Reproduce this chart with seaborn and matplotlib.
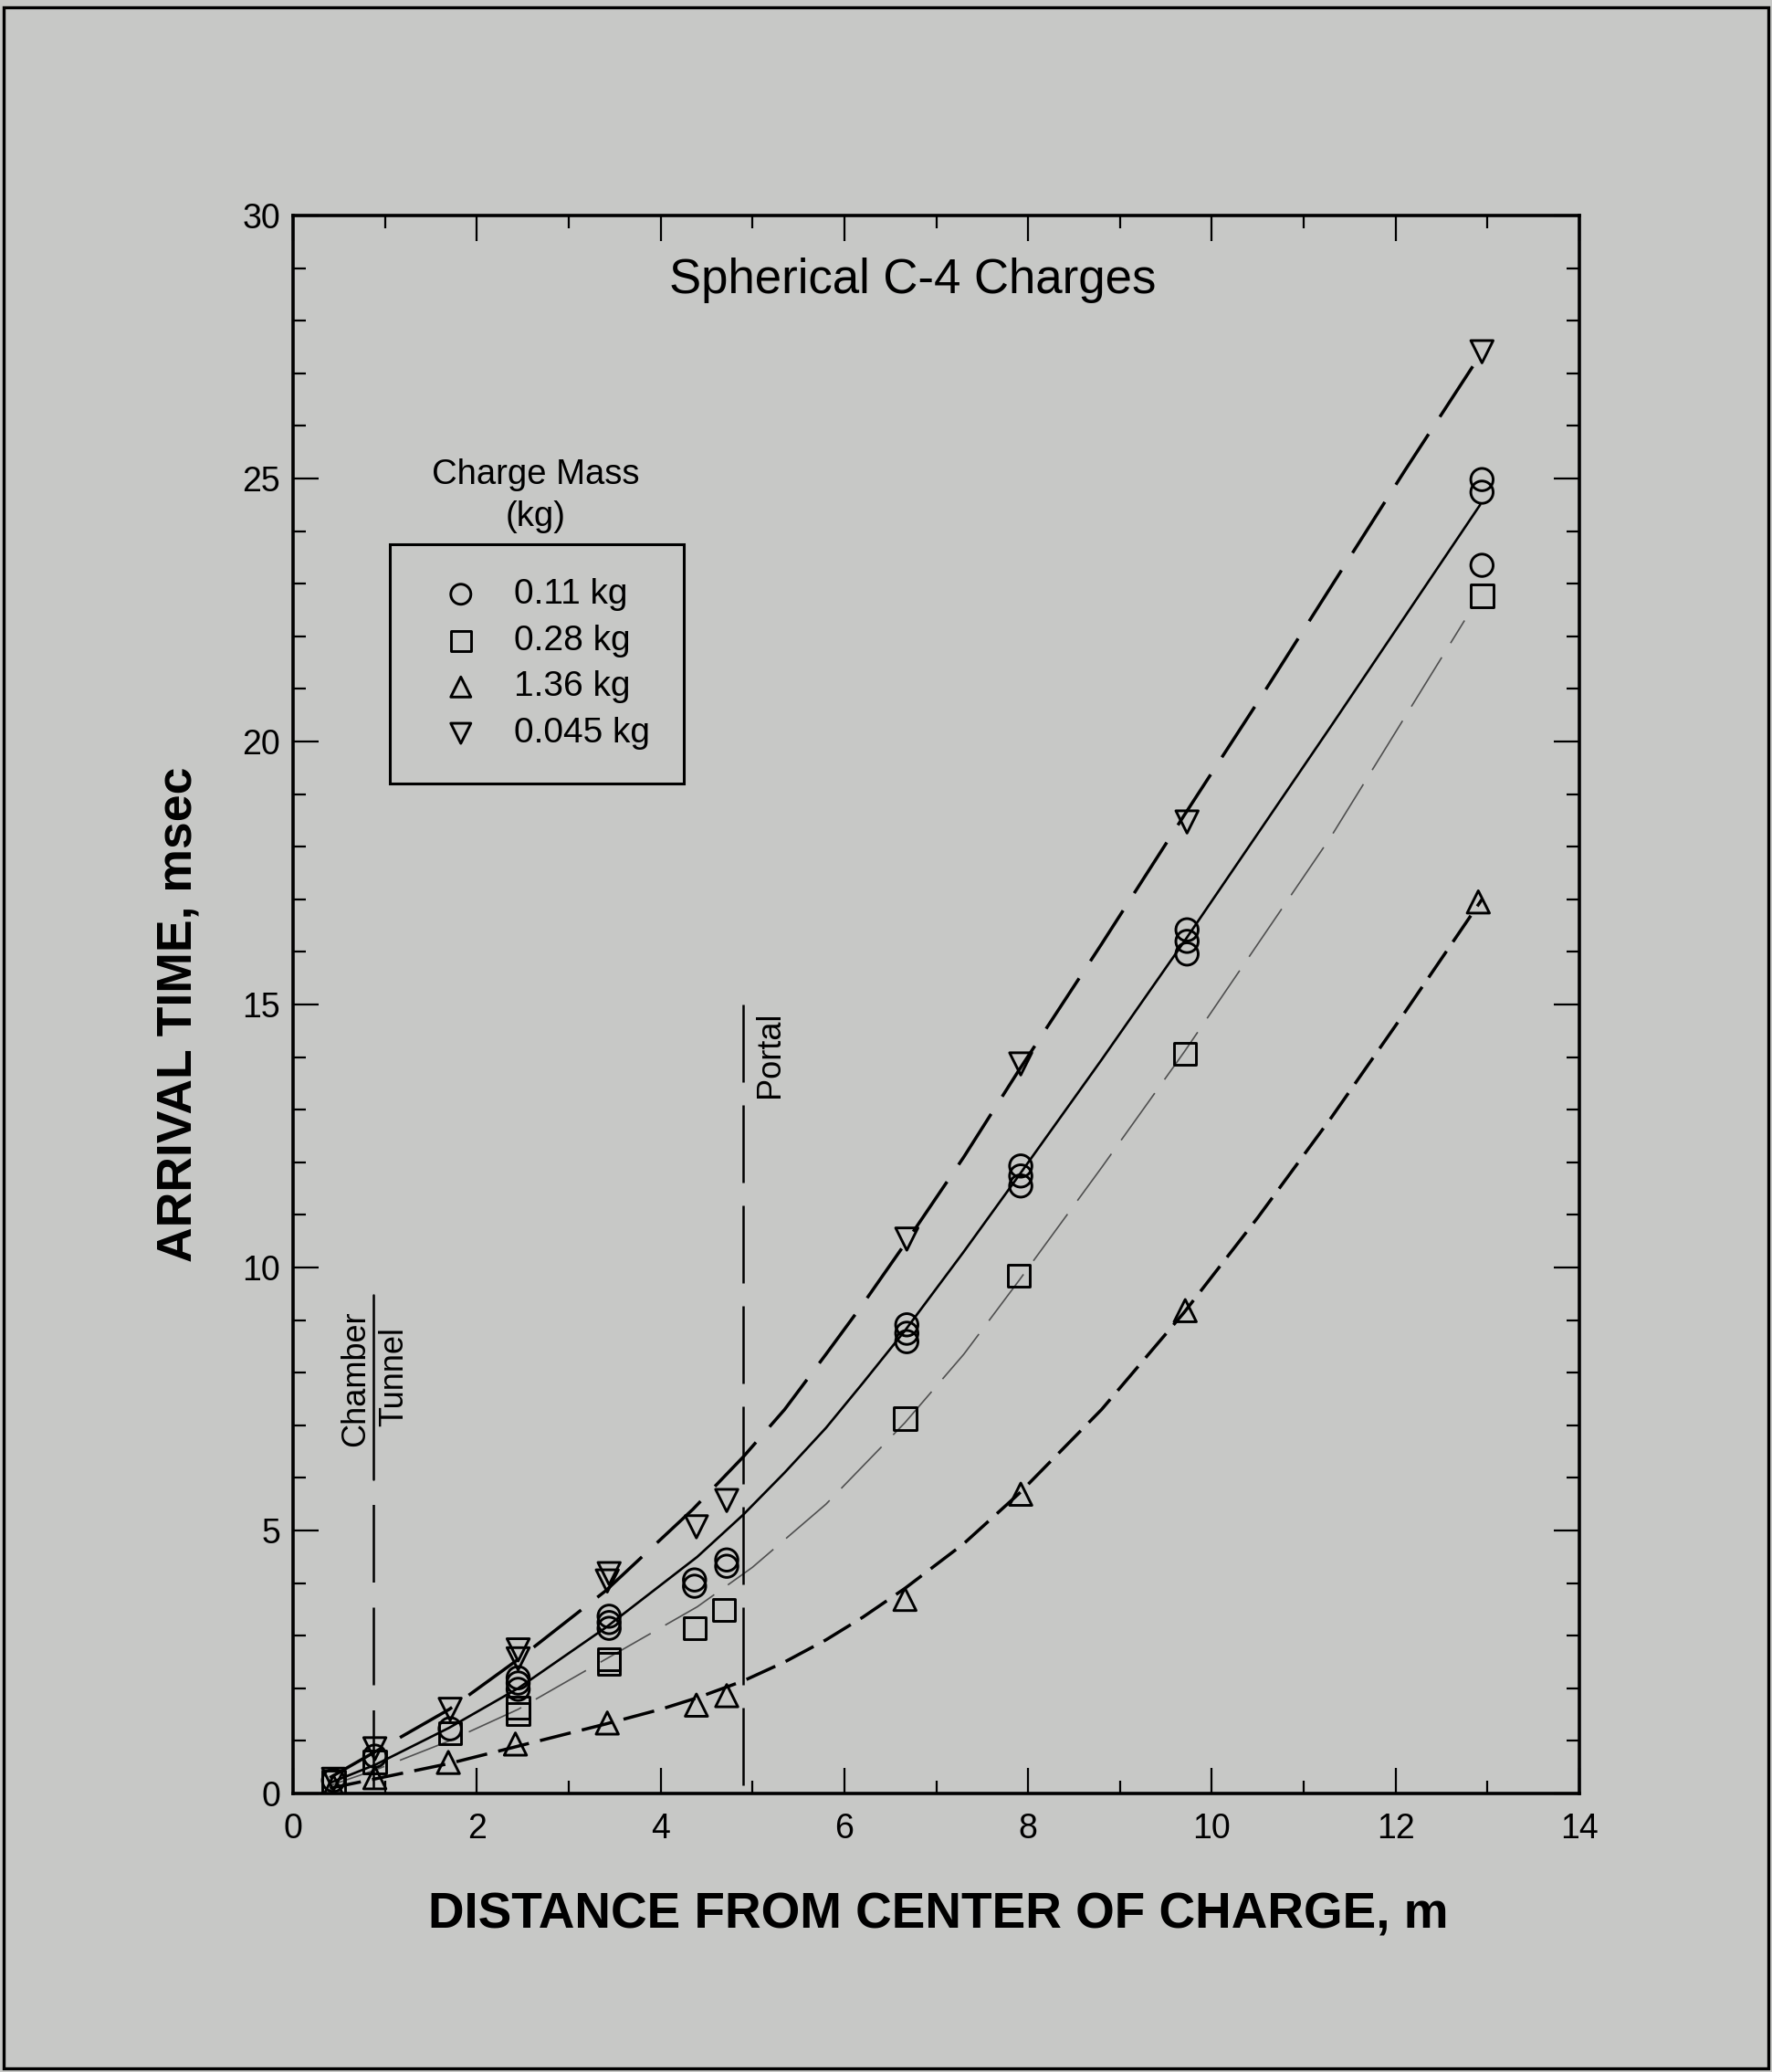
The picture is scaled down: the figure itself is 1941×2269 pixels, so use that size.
import numpy as np
import pandas as pd
import matplotlib
matplotlib.use("Agg")
import matplotlib.pyplot as plt
import seaborn as sns
from matplotlib.ticker import MultipleLocator
from matplotlib.patches import Rectangle

# ---------------- data ----------------
# measured arrival times (msec) vs distance (m)
x_011 = [0.44, 0.89, 1.71, 2.45, 2.45, 2.45, 3.44, 3.44, 3.44, 4.37, 4.37, 4.72, 4.72,
         6.68, 6.68, 6.68, 7.92, 7.92, 7.92, 9.73, 9.73, 9.73, 12.94, 12.94, 12.94]
t_011 = [0.25, 0.71, 1.23, 2.20, 2.10, 1.98, 3.37, 3.25, 3.14, 4.06, 3.94, 4.44, 4.32,
         8.91, 8.75, 8.59, 11.93, 11.74, 11.55, 16.42, 16.20, 15.96, 24.98, 24.74, 23.35]

x_028 = [0.44, 0.89, 1.71, 2.45, 2.45, 3.44, 3.44, 4.37, 4.69, 6.66, 7.90, 9.71, 12.94]
t_028 = [0.22, 0.60, 1.15, 1.63, 1.51, 2.55, 2.47, 3.14, 3.49, 7.13, 9.84, 14.06, 22.77]

x_136 = [0.44, 0.89, 1.69, 2.42, 3.42, 4.39, 4.72, 6.66, 7.92, 9.71, 12.90]
t_136 = [0.13, 0.30, 0.59, 0.94, 1.34, 1.68, 1.86, 3.69, 5.69, 9.18, 16.95]

x_0045 = [0.44, 0.89, 1.71, 2.45, 2.45, 3.44, 3.42, 4.39, 4.72, 6.68, 7.92, 9.73, 12.94]
t_0045 = [0.27, 0.85, 1.60, 2.73, 2.56, 4.18, 4.04, 5.07, 5.57, 10.54, 13.87, 18.47, 27.41]

# fitted curves
cx_011 = [0.4, 0.9, 1.7, 2.45, 3.4, 4.4, 4.9, 5.35, 5.8, 6.2, 6.66, 7.3, 7.9, 8.8, 9.7, 11.3, 12.92]
ct_011 = [0.2, 0.55, 1.25, 2.0, 3.15, 4.5, 5.3, 6.1, 6.95, 7.8, 8.8, 10.3, 11.75, 13.95, 16.2, 20.3, 24.5]

cx_028 = [0.4, 0.9, 1.7, 2.45, 3.4, 4.4, 5.0, 5.8, 6.66, 7.3, 7.9, 8.8, 9.7, 11.3, 12.75]
ct_028 = [0.15, 0.45, 1.0, 1.6, 2.55, 3.55, 4.3, 5.5, 7.05, 8.35, 9.75, 11.9, 14.1, 18.2, 22.3]

cx_136 = [0.4, 0.9, 1.7, 2.45, 3.4, 4.0, 4.4, 4.9, 5.35, 5.8, 6.2, 6.66, 7.3, 7.9,
          8.8, 9.7, 10.5, 11.3, 12.1, 12.94]
ct_136 = [0.1, 0.28, 0.57, 0.9, 1.32, 1.6, 1.82, 2.14, 2.5, 2.92, 3.35, 3.9, 4.75, 5.7,
          7.3, 9.15, 10.95, 12.85, 14.85, 17.0]

cx_0045 = [0.4, 0.9, 1.7, 2.45, 3.4, 4.35, 4.9, 5.35, 5.8, 6.2, 6.66, 7.3, 7.9, 8.8,
           9.7, 10.5, 11.3, 12.1, 12.94]
ct_0045 = [0.3, 0.8, 1.6, 2.55, 3.85, 5.4, 6.4, 7.3, 8.35, 9.3, 10.45, 12.1, 13.75, 16.15,
           18.6, 20.75, 22.95, 25.15, 27.4]

labels = ["0.11 kg", "0.28 kg", "1.36 kg", "0.045 kg"]

chamber_x = 0.87
portal_x = 4.9
portal_top = 15

x_ticks = [0, 2, 4, 6, 8, 10, 12, 14]
y_ticks = [0, 5, 10, 15, 20, 25, 30]

# ---------------- styling ----------------
sns.set_theme(style="ticks")
plt.rcParams["font.family"] = ["Liberation Sans", "DejaVu Sans"]
plt.rcParams["text.color"] = "black"
plt.rcParams["axes.labelcolor"] = "black"
plt.rcParams["xtick.color"] = "black"
plt.rcParams["ytick.color"] = "black"

BG = "#c7c8c6"
W, H = 1941, 2269
fig = plt.figure(figsize=(W / 100, H / 100), dpi=100, facecolor=BG)
ax = fig.add_axes([321 / W, 1 - 1964 / H, (1730 - 321) / W, (1964 - 236) / H])
ax.set_facecolor(BG)

curve_styles = [
    dict(color="black", linewidth=1.9, linestyle="-"),
    dict(color="#505050", linewidth=1.2, linestyle=(0, (38, 11))),
    dict(color="black", linewidth=2.5, linestyle=(0, (10, 3.6))),
    dict(color="black", linewidth=2.5, linestyle=(0, (19, 6.5))),
]
markers = ["o", "s", "^", "v"]
pts = [(x_011, t_011), (x_028, t_028), (x_136, t_136), (x_0045, t_0045)]
curves = [(cx_011, ct_011), (cx_028, ct_028), (cx_136, ct_136), (cx_0045, ct_0045)]

handles = []
for (px, py), (cx, cy), st, mk, lab in zip(pts, curves, curve_styles, markers, labels):
    sns.lineplot(x=cx, y=cy, ax=ax, sort=False, estimator=None, zorder=2, **st)
    sns.scatterplot(x=px, y=py, ax=ax, marker=mk, s=310, color="black",
                    facecolor="none", edgecolor="black", linewidth=2.1,
                    label=lab, zorder=3, legend=False)
    handles.append(ax.collections[-1])

# chamber / tunnel and portal reference lines
ax.plot([chamber_x, chamber_x], [9.48, 5.97], color="black", lw=1.8)
ax.plot([chamber_x, chamber_x], [5.97, 0], color="black", lw=1.8,
        linestyle=(34, (34, 11)))
ax.plot([portal_x, portal_x], [portal_top, 0], color="black", lw=1.8,
        linestyle=(0, (34, 10)))

ax.text(0.685, 7.88, "Chamber", rotation=90, ha="center", va="center", fontsize=26)
ax.text(1.10, 7.92, "Tunnel", rotation=90, ha="center", va="center", fontsize=26)
ax.text(5.19, 14.05, "Portal", rotation=90, ha="center", va="center", fontsize=26)

ax.text(6.74, 28.52, "Spherical C-4 Charges", ha="center", va="baseline", fontsize=38)
ax.text(2.64, 24.9, "Charge Mass", ha="center", va="baseline", fontsize=27.5)
ax.text(2.64, 24.1, "(kg)", ha="center", va="baseline", fontsize=27.5)

leg = ax.legend(handles, labels, loc="upper left",
                bbox_to_anchor=((427 - 321) / 1409, (1964 - 596) / 1728),
                borderaxespad=0, frameon=True, fancybox=False, edgecolor="black",
                facecolor=BG, framealpha=1, fontsize=28, borderpad=0.95,
                labelspacing=0.38, handlelength=2.1, handletextpad=0.45,
                scatterpoints=1, markerscale=0.9)
leg.get_frame().set_linewidth(2.2)

# axes
ax.set_xlim(0, 14)
ax.set_ylim(0, 30)
ax.set_xticks(x_ticks)
ax.set_yticks(y_ticks)
ax.xaxis.set_minor_locator(MultipleLocator(1))
ax.yaxis.set_minor_locator(MultipleLocator(1))
ax.tick_params(which="both", direction="in", top=True, right=True, width=1.6)
ax.tick_params(which="major", length=20, labelsize=27)
ax.tick_params(which="minor", length=10)
ax.tick_params(axis="x", pad=15)
ax.tick_params(axis="y", pad=10)
for sp in ax.spines.values():
    sp.set_visible(True)
    sp.set_linewidth(2.6)
    sp.set_color("black")

ax.set_xlabel("DISTANCE FROM CENTER OF CHARGE, m", fontsize=39.5, fontweight="bold")
ax.set_ylabel("ARRIVAL TIME, msec", fontsize=38.5, fontweight="bold")
ax.xaxis.set_label_coords(0.5018, -0.0625)
ax.yaxis.set_label_coords(-0.071, 0.4936)

# page frame
fig.add_artist(Rectangle((4 / W, 1 - 2265 / H), (1937 - 4) / W, (2265 - 8) / H,
                         transform=fig.transFigure, fill=False, lw=2.4,
                         edgecolor="black"))

fig.savefig("out.png", dpi=100, facecolor=BG)
